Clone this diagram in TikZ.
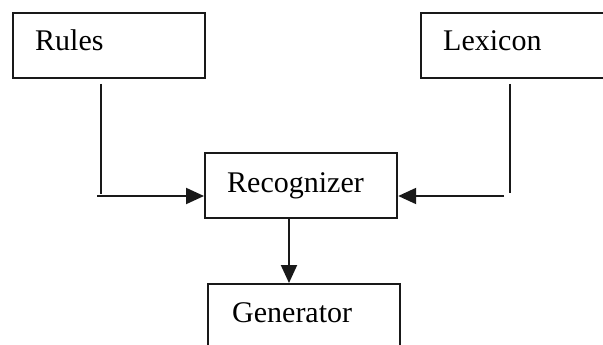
\documentclass[tikz,border=0pt]{standalone}
\usepackage{fontspec}
\setmainfont{Liberation Serif}
\usetikzlibrary{arrows.meta}
\tikzset{
  box/.style={draw=black!90, line width=2.2pt, rectangle, inner sep=0pt, anchor=north west},
  lbl/.style={font=\fontsize{30}{36}\selectfont, inner sep=0pt, anchor=base west},
  wire/.style={draw=black!90, line width=2pt},
  flow/.style={wire, -{Triangle[length=18pt,width=16pt]}}
}
\begin{document}
\begin{tikzpicture}[x=1pt, y=-1pt]
  \useasboundingbox (0,0) rectangle (603,345);
  \clip (0,0) rectangle (603,345);
  \fill[white] (0,0) rectangle (603,345);

  % boxes
  \node[box, minimum width=192pt, minimum height=65pt] (rules) at (12,12) {};
  \node[box, minimum width=200pt, minimum height=65pt] (lexicon) at (420,12) {};
  \node[box, minimum width=192pt, minimum height=65pt] (recognizer) at (204,152) {};
  \node[box, minimum width=192pt, minimum height=80pt] (generator) at (207,283) {};

  % labels
  \node[lbl] (rulestext) at (35,51) {Rules};
  \node[lbl] (lexicontext) at (443,51) {Lexicon};
  \node[lbl] (recognizertext) at (227,192) {Recognizer};
  \node[lbl] (generatortext) at (232,322) {Generator};

  % connector end points
  \coordinate (rdrop) at (101,84);
  \coordinate (rcorner) at (101,194);
  \coordinate (rstart) at (97,196);
  \coordinate (ldrop) at (510,84);
  \coordinate (lcorner) at (510,193);
  \coordinate (lstart) at (504,196);

  % Rules -> Recognizer
  \draw[wire] (rdrop) -- (rcorner);
  \draw[flow] (rstart) -- (rstart -| recognizer.west);

  % Lexicon -> Recognizer
  \draw[wire] (ldrop) -- (lcorner);
  \draw[flow] (lstart) -- (lstart -| recognizer.east);

  % Recognizer -> Generator
  \draw[flow] (recognizer.south -| 289,0) -- (generator.north -| 289,0);
\end{tikzpicture}
\end{document}
